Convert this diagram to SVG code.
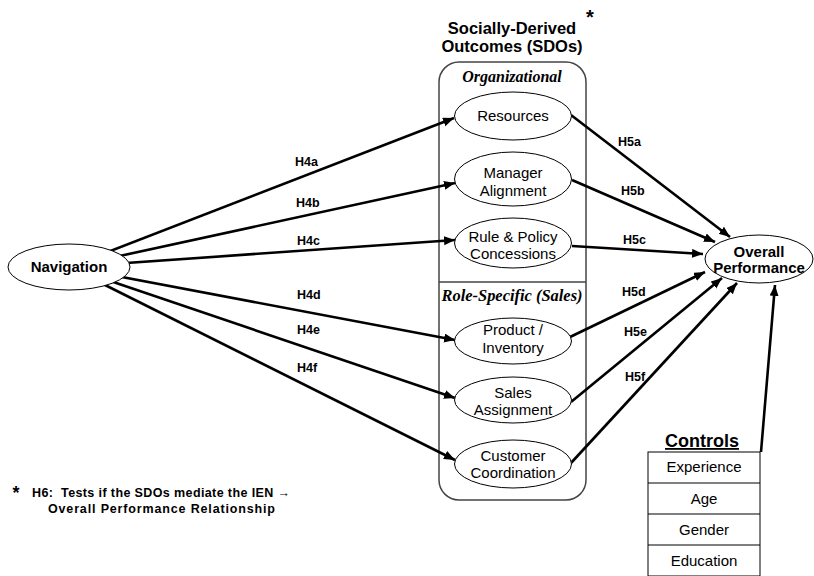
<svg xmlns="http://www.w3.org/2000/svg" width="814" height="576" viewBox="0 0 814 576">
<style>
.node{fill:#fff;stroke:#000;stroke-width:1}
.t{font-family:"Liberation Sans",Arial,sans-serif;font-size:15px;fill:#000;text-anchor:middle}
.b{font-weight:bold}
.h{font-family:"Liberation Sans",Arial,sans-serif;font-size:12.5px;font-weight:bold;fill:#000}
.conn line{stroke:#000;stroke-width:2.6;marker-end:url(#ah)}
.ti{font-family:"Liberation Serif","Times New Roman",serif;font-style:italic;font-weight:bold;font-size:16px;text-anchor:middle}
</style>
<defs>
<marker id="ah" markerUnits="userSpaceOnUse" markerWidth="12" markerHeight="10" refX="11" refY="4.5" orient="auto">
<path d="M0,0 L11,4.5 L0,9 z" fill="#000"/>
</marker>
</defs>
<rect width="814" height="576" fill="#fff"/>

<g id="sdo-group">
<text class="t b" x="512" y="34" style="font-size:16.5px">Socially-Derived</text>
<text class="t b" x="512" y="52" style="font-size:16.5px">Outcomes (SDOs)</text>
<text class="t b" x="590" y="24" style="font-size:20px">*</text>
<rect x="439" y="62" width="147" height="438" rx="20" ry="20" fill="none" stroke="#444" stroke-width="1.5"/>
<line x1="439" y1="282" x2="586" y2="282" stroke="#444" stroke-width="1.5"/>
<text class="ti" x="512" y="82">Organizational</text>
<text class="ti" x="512" y="301" textLength="141" lengthAdjust="spacingAndGlyphs">Role-Specific (Sales)</text>
</g>

<g class="conn" id="connectors">
<line x1="69" y1="267" x2="454" y2="118"/>
<line x1="69" y1="267" x2="455" y2="183"/>
<line x1="69" y1="267" x2="455" y2="240"/>
<line x1="69" y1="267" x2="455" y2="340"/>
<line x1="69" y1="267" x2="455" y2="398"/>
<line x1="69" y1="267" x2="455" y2="460"/>
<line x1="571" y1="115" x2="730" y2="237"/>
<line x1="572" y1="180" x2="715" y2="242"/>
<line x1="572" y1="246" x2="703" y2="254"/>
<line x1="570" y1="337" x2="705" y2="272"/>
<line x1="571" y1="402" x2="722" y2="278"/>
<line x1="571" y1="463" x2="737" y2="283"/>
<line x1="761" y1="452" x2="775" y2="285"/>
</g>

<g id="labels">
<text class="h" x="295" y="166">H4a</text>
<text class="h" x="296" y="207">H4b</text>
<text class="h" x="297" y="245">H4c</text>
<text class="h" x="297" y="299">H4d</text>
<text class="h" x="297" y="334">H4e</text>
<text class="h" x="297" y="372">H4f</text>
<text class="h" x="618" y="146">H5a</text>
<text class="h" x="621" y="195">H5b</text>
<text class="h" x="623" y="244">H5c</text>
<text class="h" x="622" y="296">H5d</text>
<text class="h" x="624" y="336">H5e</text>
<text class="h" x="625" y="381">H5f</text>
</g>

<g id="navigation">
<ellipse class="node" cx="69" cy="267" rx="61" ry="23"/>
<text class="t b" x="69" y="272">Navigation</text>
</g>

<g id="resources">
<ellipse class="node" cx="513" cy="116" rx="58.5" ry="24"/>
<text class="t" x="513" y="121">Resources</text>
</g>
<g id="manager-alignment">
<ellipse class="node" cx="513" cy="179" rx="58.5" ry="27"/>
<text class="t" x="513" y="178">Manager</text>
<text class="t" x="513" y="196">Alignment</text>
</g>
<g id="rule-policy">
<ellipse class="node" cx="513" cy="243" rx="58.5" ry="25"/>
<text class="t" x="513" y="242">Rule &amp; Policy</text>
<text class="t" x="513" y="259">Concessions</text>
</g>
<g id="product-inventory">
<ellipse class="node" cx="513" cy="341" rx="58.5" ry="23"/>
<text class="t" x="513" y="335">Product /</text>
<text class="t" x="513" y="353">Inventory</text>
</g>
<g id="sales-assignment">
<ellipse class="node" cx="513" cy="400" rx="58.5" ry="23"/>
<text class="t" x="513" y="398">Sales</text>
<text class="t" x="513" y="415">Assignment</text>
</g>
<g id="customer-coordination">
<ellipse class="node" cx="513" cy="464" rx="58.5" ry="24"/>
<text class="t" x="513" y="461">Customer</text>
<text class="t" x="513" y="478">Coordination</text>
</g>

<g id="overall-performance">
<ellipse class="node" cx="759" cy="259" rx="54" ry="24"/>
<text class="t b" x="759" y="257">Overall</text>
<text class="t b" x="759" y="273">Performance</text>
</g>

<g id="controls">
<text class="t b" x="702" y="447" style="font-size:18px;text-decoration:underline">Controls</text>
<rect x="648" y="452" width="112" height="124" fill="#fff" stroke="#000" stroke-width="1"/>
<line x1="648" y1="483" x2="760" y2="483" stroke="#000"/>
<line x1="648" y1="514" x2="760" y2="514" stroke="#000"/>
<line x1="648" y1="545" x2="760" y2="545" stroke="#000"/>
<text class="t" x="704" y="472">Experience</text>
<text class="t" x="704" y="504">Age</text>
<text class="t" x="704" y="535">Gender</text>
<text class="t" x="704" y="566">Education</text>
</g>

<g id="footnote">
<text class="t b" x="16" y="499" style="font-size:18px">*</text>
<text class="h" x="32" y="497" xml:space="preserve" textLength="258" lengthAdjust="spacing" style="font-size:12.5px">H6:  Tests if the SDOs mediate the IEN →</text>
<text class="h" x="48" y="513" textLength="227" lengthAdjust="spacing" style="font-size:12.5px">Overall Performance Relationship</text>
</g>
</svg>
